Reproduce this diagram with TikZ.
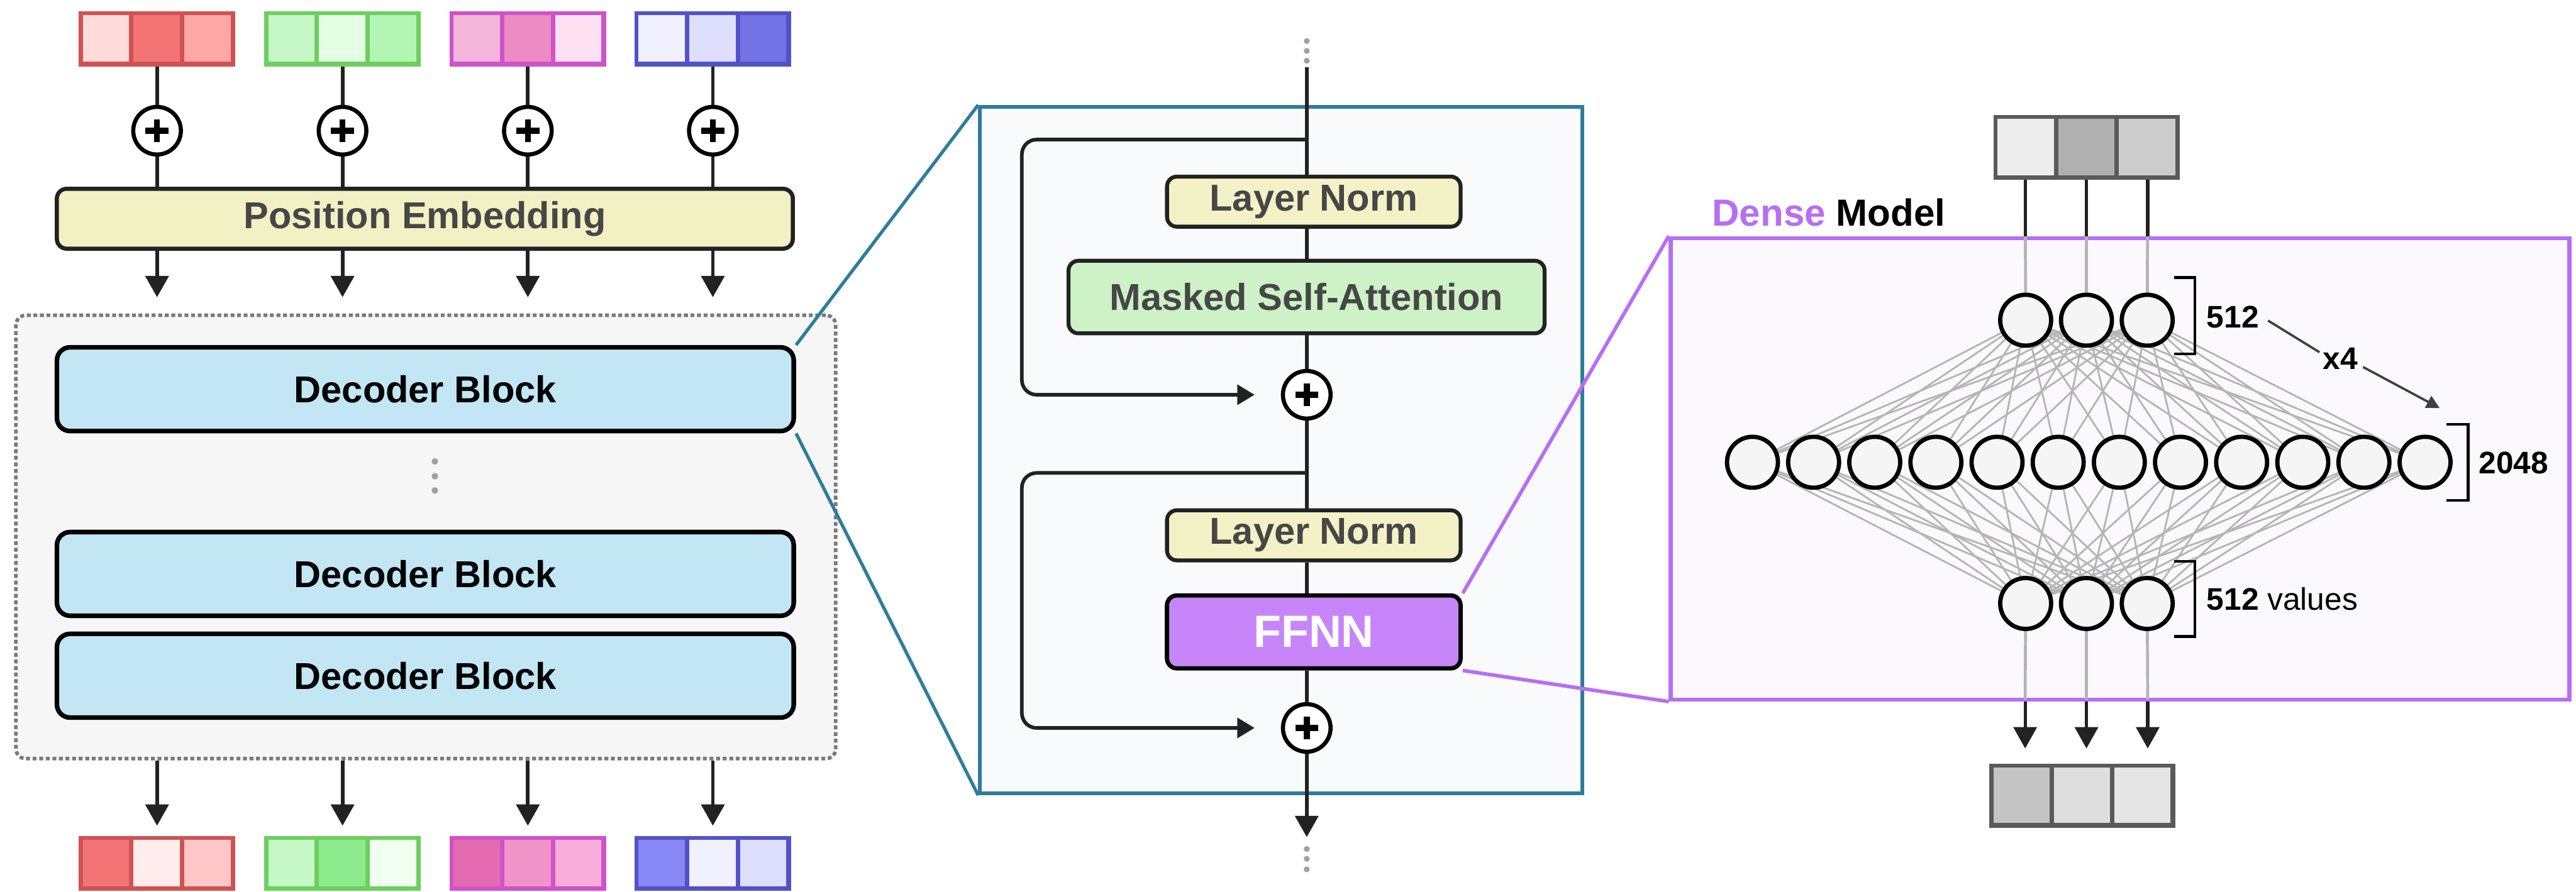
\documentclass[tikz,border=0pt]{standalone}
\usepackage{fontspec}
\setmainfont{Liberation Sans}
\usetikzlibrary{arrows.meta,calc}

% palette
\definecolor{ink}{HTML}{222222}
\definecolor{txtgray}{HTML}{474747}
\definecolor{peFill}{HTML}{F1F1C3}
\definecolor{lnFill}{HTML}{F2F2C6}
\definecolor{msaFill}{HTML}{CDF2C6}
\definecolor{decFill}{HTML}{C2E6F4}
\definecolor{stackFill}{HTML}{F6F6F6}
\definecolor{stackLine}{HTML}{7A7A7A}
\definecolor{tealc}{HTML}{2E7D9A}
\definecolor{blkFill}{HTML}{F8FAFC}
\definecolor{purp}{HTML}{B76EF4}
\definecolor{ffnnFill}{HTML}{C785FA}
\definecolor{denseFill}{HTML}{FBF9FD}
\definecolor{wire}{HTML}{B5B5B5}
\definecolor{dotgray}{HTML}{A0A0A0}
% token colours
\definecolor{rB}{HTML}{D05252}\definecolor{gB}{HTML}{6CCF5E}
\definecolor{mB}{HTML}{CF52C8}\definecolor{bB}{HTML}{5252C8}
\definecolor{kB}{HTML}{5A5A5A}

\pgfdeclarelayer{boxes}\pgfdeclarelayer{wires}
\pgfsetlayers{boxes,wires,main}

% token vector: outer frame in border colour and three inner cells
\newcommand\tokbox[8]{%
  \node[fill=#3, minimum width=#7pt, minimum height=#8pt, inner sep=0pt, draw=none] (#1) at (#2) {};
  \begin{scope}[shift={(#1.north west)}]
    \pgfmathsetmacro\cw{(#7-4*2.6)/3}
    \fill[#4] (2.6,2.6) rectangle ++(\cw,#8-5.2);
    \fill[#5] (5.2+\cw,2.6) rectangle ++(\cw,#8-5.2);
    \fill[#6] (7.8+2*\cw,2.6) rectangle ++(\cw,#8-5.2);
  \end{scope}}

\newcommand\lblfont{\fontsize{22.8}{26}\selectfont\bfseries}
\newcommand\numfont{\fontsize{19}{22}\selectfont}

\begin{document}
\begin{tikzpicture}[x=1pt,y=-1pt,
  conn/.style={draw=ink, line width=2.2pt},
  arr/.style={conn, -{Triangle[length=13pt,width=14pt]}},
  skiparr/.style={conn, rounded corners=9pt, -{Triangle[length=10.5pt,width=12pt]}},
  addc/.style={circle, draw=black, line width=2.5pt, fill=white, minimum size=29pt, inner sep=0pt,
    path picture={\draw[black, line width=3.6pt]
      ($(path picture bounding box.center)+(-7pt,0)$) -- ++(14pt,0)
      ($(path picture bounding box.center)+(0,-7pt)$) -- ++(0,14pt);}},
  pebox/.style={draw=ink, line width=2.5pt, fill=peFill, rounded corners=6pt, inner sep=0pt,
    minimum width=448pt, minimum height=36.5pt, text=txtgray, font=\lblfont},
  decbox/.style={draw=black, line width=2.8pt, fill=decFill, rounded corners=8pt, inner sep=0pt,
    minimum width=448.5pt, minimum height=51pt, text=black, font=\lblfont},
  lnbox/.style={draw=ink, line width=2.4pt, fill=lnFill, rounded corners=6pt, inner sep=0pt,
    minimum width=178.7pt, minimum height=30.5pt, text=txtgray, font=\lblfont},
  dotc/.style={circle, fill=dotgray, inner sep=0pt, minimum size=4pt},
  neuron/.style={circle, draw=black, line width=2.6pt, fill=black!4, minimum size=31pt, inner sep=0pt},
  netw/.style={draw=wire, line width=1.1pt},
  brk/.style={draw=black, line width=1.6pt},
]
\useasboundingbox (0,0) rectangle (1568,543.2);
\begin{pgfonlayer}{boxes}
\fill[white] (0,0) rectangle (1568,543.2);
\end{pgfonlayer}

%% ---------------- left: token stack ----------------
\tokbox{tin1}{95.6,23.7}{rB}{red!14}{red!52!white!95!black}{red!35}{95.2}{33.5}
\tokbox{tin2}{208.5,23.7}{gB}{green!20!white!97!black}{green!10}{green!27!white!96!black}{95.2}{33.5}
\tokbox{tin3}{321.3,23.7}{mB}{magenta!28!white!97!black}{magenta!45!white!95!black}{magenta!12}{95.2}{33.5}
\tokbox{tin4}{433.9,23.7}{bB}{blue!6}{blue!13}{blue!50!white!90!black}{95.2}{33.5}

\node[pebox] (pe) at (258.6,133.2) {Position Embedding};

\foreach \k/\x in {1/95.6,2/208.5,3/321.3,4/433.9}{
  \node[addc] (p\k) at (\x,79.6) {};
  \draw[conn] (tin\k) -- (p\k);
  \draw[conn] (p\k) -- (p\k |- pe.north);
  \coordinate (pt\k) at (\x,181);
  \draw[arr] (p\k |- pe.south) -- (pt\k);
}

% decoder stack
\node[draw=stackLine, line width=2.2pt, dash pattern=on 2.4pt off 1.6pt, fill=stackFill,
  rounded corners=6pt, minimum width=499pt, minimum height=270pt, inner sep=0pt] (stack) at (259.2,327) {};
\node[decbox] (db1) at (258.9,237) {Decoder Block};
\node[decbox] (db2) at (258.9,349.5) {Decoder Block};
\node[decbox] (db3) at (258.9,411.5) {Decoder Block};
\foreach \y [count=\k] in {281,290,298.7} \node[dotc] (sd\k) at (264.7,\y) {};

\tokbox{tout1}{95.6,525.8}{rB}{red!52!white!95!black}{red!7}{red!22}{95.2}{33.5}
\tokbox{tout2}{208.5,525.8}{gB}{green!20!white!97!black}{green!40!white!92!black}{green!6}{95.2}{33.5}
\tokbox{tout3}{321.3,525.8}{mB}{magenta!60!white!92!black}{magenta!42!white!96!black}{magenta!32}{95.2}{33.5}
\tokbox{tout4}{433.9,525.8}{bB}{blue!45!white!96!black}{blue!6}{blue!13}{95.2}{33.5}
\foreach \k in {1,...,4}{
  \draw[arr] (tout\k |- stack.south) -- ($(tout\k.north)+(0,-6)$);
}

%% ---------------- middle: one decoder block ----------------
\node[draw=tealc, line width=2.2pt, fill=blkFill, minimum width=366.5pt, minimum height=418.2pt,
  inner sep=0pt] (blk) at (779.75,274.1) {};
\draw[draw=tealc, line width=2pt] (db1.north east) -- (blk.north west);
\draw[draw=tealc, line width=2pt] (db1.south east) -- (blk.south west);

\foreach \y [count=\k] in {25,31,37} \node[dotc, minimum size=3.6pt] (td\k) at (795.4,\y) {};
\coordinate (top) at (795.4,41);
\coordinate (s1) at (795.4,85);
\coordinate (s2) at (795.4,288);
\coordinate (bot) at (795.4,509.8);

\node[lnbox] (ln1) at (799.7,122.8) {Layer Norm};
\node[lnbox, fill=msaFill, minimum width=289.8pt, minimum height=44.2pt] (msa) at (795.3,180.9) {Masked Self-Attention};
\node[addc] (add1) at (795.4,240.4) {};
\node[lnbox] (ln2) at (799.7,326) {Layer Norm};
\node[lnbox, draw=black, line width=2.6pt, fill=ffnnFill, minimum height=44.4pt, text=white,
  font=\fontsize{27.5}{30}\selectfont\bfseries] (ffnn) at (799.7,384.8) {FFNN};
\node[addc] (add2) at (795.4,443.3) {};

\draw[conn] (top) -- (top |- ln1.north);
\draw[conn] (ln1.south -| top) -- (msa.north -| top);
\draw[conn] (msa.south -| top) -- (add1);
\draw[conn] (add1) -- (ln2.north -| top);
\draw[conn] (ln2.south -| top) -- (ffnn.north -| top);
\draw[conn] (ffnn.south -| top) -- (add2);
\draw[arr] (add2) -- (bot);
\foreach \y [count=\k] in {517,523,529.4} \node[dotc, minimum size=3.6pt] (bd\k) at (795.4,\y) {};

\draw[skiparr] (s1) -- ++(-173.4,0) |- ($(add1.west)+(-16,0)$);
\draw[skiparr] (s2) -- ++(-173.4,0) |- ($(add2.west)+(-16,0)$);

%% ---------------- right: dense feed-forward network ----------------
\begin{pgfonlayer}{boxes}
\node[draw=purp, line width=2.5pt, fill=denseFill, minimum width=547pt, minimum height=281pt,
  inner sep=0pt] (dense) at (1290.5,285.5) {};
\end{pgfonlayer}
\draw[draw=purp, line width=2.2pt] (ffnn.north east) -- (dense.north west);
\draw[draw=purp, line width=2.2pt] (ffnn.south east) -- (dense.south west);

\node[anchor=base west, inner sep=0pt, font=\fontsize{23}{26}\selectfont\bfseries] (dlabel) at (1042,137.6)
  {\textcolor{purp}{Dense} Model};

\tokbox{vin}{1270.2,89.8}{kB}{black!7}{black!31}{black!20}{113.5}{39.6}
\tokbox{vout}{1267.5,484.5}{kB}{black!23}{black!13}{black!10}{113}{39}

\foreach \x [count=\k] in {1233,1270,1307}{
  \node[neuron] (t\k) at (\x,195) {};
  \node[neuron] (b\k) at (\x,367.5) {};
}
\foreach \k in {1,...,12}{
  \node[neuron] (m\k) at ({1066.7+37.22*(\k-1)},281.5) {};
}
\begin{pgfonlayer}{wires}
\foreach \i in {1,2,3}{
  \foreach \j in {1,...,12}{
    \draw[netw] (t\i.center) -- (m\j.center);
    \draw[netw] (m\j.center) -- (b\i.center);
  }
}
\foreach \x [count=\k] in {1232.7,1270,1307.3}{
  \draw[draw=wire, line width=1.8pt] (\x,109.6) -- (t\k.center);
  \draw[draw=wire, line width=1.8pt] (b\k.center) -- (\x,426);
}
\end{pgfonlayer}
\foreach \x [count=\k] in {1232.7,1270,1307.3}{
  \coordinate (vi\k) at (\x,109.6);
  \draw[draw=ink, line width=2pt] (vi\k) -- (vi\k |- dense.north);
  \coordinate (vo\k) at (\x,455.8);
  \draw[arr, line width=2pt] (vo\k |- dense.south) -- (vo\k);
}

% layer-size brackets
\draw[brk] (1323.5,169) -- (1336,169) -- (1336,215.5) -- (1323.5,215.5);
\draw[brk] (1489,258.4) -- (1502.3,258.4) -- (1502.3,304.6) -- (1489,304.6);
\draw[brk] (1323.5,341.8) -- (1336,341.8) -- (1336,387.6) -- (1323.5,387.6);
\node[anchor=base west, inner sep=0pt, font=\numfont\bfseries] (n512a) at (1343,199.5) {512};
\node[anchor=base west, inner sep=0pt, font=\numfont\bfseries] (n2048) at (1508.6,288.3) {2048};
\node[anchor=base west, inner sep=0pt, font=\numfont] (n512b) at (1343,371.6) {\textbf{512} values};

% expansion factor
\node[inner sep=0pt, font=\numfont\bfseries] (x4) at (1424.6,218.5) {x4};
\coordinate (xa) at (1380.5,195.2);
\coordinate (xb) at (1485,248.5);
\draw[draw=black!75, line width=1.4pt] (xa) -- ($(x4.west)+(-2,-4)$);
\draw[draw=black!75, line width=1.4pt, -{Triangle[length=8pt,width=8pt]}] ($(x4.east)+(3,5)$) -- (xb);
\end{tikzpicture}
\end{document}
